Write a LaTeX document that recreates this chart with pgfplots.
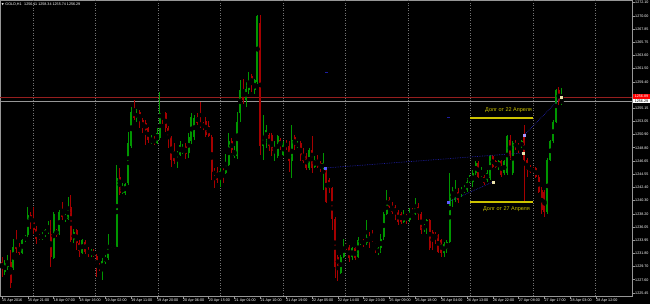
\documentclass[border=0pt]{standalone}
\usepackage{pgfplots}
\pgfplotsset{compat=1.18}
\usepackage{pgfplotstable}
\usepackage{fontspec}
\setmainfont{Liberation Sans}
\newfontfamily\dejavu{DejaVu Sans}
\definecolor{cup}{RGB}{0,150,0}
\definecolor{cdn}{RGB}{165,0,0}
\definecolor{cyel}{RGB}{205,195,0}
\definecolor{cnavy}{RGB}{30,30,160}
\definecolor{cgrid}{RGB}{150,150,150}
\definecolor{cvgrid}{RGB}{115,115,115}
\definecolor{cask}{RGB}{150,30,30}
\definecolor{cm1}{RGB}{90,90,255}
\definecolor{cm2}{RGB}{170,150,255}
\definecolor{cm3}{RGB}{235,225,170}
\pgfplotstableread{
i o h l c
0 1230.5 1231.3 1228.1 1229.4
1 1228.9 1230.7 1228.3 1230.2
2 1229.7 1231.6 1229.1 1230.5
3 1230.5 1232.4 1226.2 1227.0
4 1229.4 1234.2 1229.1 1232.9
5 1233.7 1235.6 1231.8 1232.6
6 1232.9 1233.4 1231.6 1231.8
7 1231.9 1234.2 1231.8 1233.9
8 1234.0 1234.8 1233.7 1234.4
9 1234.8 1239.3 1234.5 1238.0
10 1238.0 1238.5 1235.8 1236.9
11 1236.9 1239.2 1235.0 1235.6
12 1235.8 1236.2 1233.4 1234.2
13 1234.8 1235.0 1233.9 1234.1
14 1234.1 1235.3 1233.9 1234.8
15 1234.8 1235.8 1234.4 1235.5
16 1235.3 1237.1 1235.0 1235.7
17 1235.0 1237.1 1229.7 1231.3
18 1231.0 1238.5 1230.9 1238.2
19 1235.6 1235.8 1234.5 1234.8
20 1235.0 1238.8 1234.8 1238.5
21 1238.8 1240.1 1237.2 1237.7
22 1237.3 1238.2 1236.9 1238.0
23 1237.4 1240.9 1237.2 1239.3
24 1239.2 1241.2 1233.7 1234.0
25 1233.9 1235.7 1233.5 1235.3
26 1235.6 1235.8 1232.4 1233.4
27 1233.5 1234.0 1231.3 1232.2
28 1231.9 1234.1 1231.7 1233.9
29 1233.7 1234.0 1231.7 1232.1
30 1232.4 1232.9 1231.2 1231.7
31 1231.6 1232.5 1231.3 1232.1
32 1232.1 1232.5 1231.2 1231.4
33 1231.4 1231.7 1228.0 1229.4
34 1229.9 1230.2 1229.0 1229.4
35 1229.2 1231.0 1227.5 1230.6
36 1230.5 1231.6 1230.1 1231.2
37 1231.0 1235.0 1230.7 1233.2
38 1233.3 1233.5 1232.6 1232.9
39 1233.1 1233.4 1232.5 1232.7
40 1232.9 1246.0 1232.8 1244.0
41 1244.1 1245.5 1241.2 1241.6
42 1241.6 1243.2 1241.4 1242.3
43 1241.5 1243.2 1241.2 1243.0
44 1243.1 1251.4 1242.8 1249.6
45 1249.0 1255.4 1248.7 1254.6
46 1254.9 1256.5 1253.2 1253.5
47 1253.5 1255.1 1253.0 1254.4
48 1254.6 1254.9 1251.9 1253.1
49 1253.2 1253.5 1251.1 1251.9
50 1252.8 1253.2 1249.2 1251.6
51 1251.9 1252.2 1249.6 1250.0
52 1249.6 1250.8 1249.4 1250.1
53 1250.0 1250.6 1249.2 1249.6
54 1249.5 1251.9 1249.4 1251.1
55 1250.3 1257.8 1250.0 1254.3
56 1254.4 1254.6 1252.6 1254.0
57 1254.3 1254.6 1251.4 1251.9
58 1251.9 1252.3 1248.7 1250.5
59 1250.5 1250.7 1245.7 1246.8
60 1248.2 1249.5 1246.2 1246.7
61 1247.4 1248.3 1245.5 1248.0
62 1247.6 1249.8 1247.4 1249.2
63 1247.9 1249.4 1247.8 1248.7
64 1249.1 1249.6 1246.9 1247.8
65 1247.9 1251.2 1247.1 1250.5
66 1249.8 1254.3 1249.4 1253.7
67 1250.6 1254.0 1250.0 1253.5
68 1253.8 1254.3 1252.4 1252.8
69 1252.8 1256.2 1251.9 1252.3
70 1252.7 1253.0 1251.6 1252.1
71 1253.1 1253.8 1250.5 1250.8
72 1252.2 1253.1 1250.5 1250.7
73 1250.6 1250.8 1243.6 1244.9
74 1244.9 1245.5 1242.3 1244.6
75 1244.9 1245.7 1243.2 1243.6
76 1244.1 1245.5 1242.5 1245.1
77 1245.1 1245.5 1243.1 1244.6
78 1244.7 1247.8 1244.6 1246.3
79 1246.0 1251.1 1245.9 1249.9
80 1249.9 1250.3 1247.9 1248.4
81 1247.5 1249.0 1247.1 1248.2
82 1247.4 1254.6 1246.9 1253.0
83 1254.3 1259.7 1253.0 1258.0
84 1258.1 1259.9 1255.9 1256.5
85 1256.5 1259.4 1255.4 1258.2
86 1258.1 1261.0 1257.5 1259.4
87 1260.3 1260.6 1257.8 1258.9
88 1258.1 1259.8 1257.5 1259.6
89 1259.4 1270.1 1259.1 1270.0
90 1268.8 1270.1 1247.6 1249.0
91 1249.0 1254.0 1246.8 1250.3
92 1250.3 1252.4 1248.7 1251.6
93 1250.8 1251.1 1248.2 1249.0
94 1250.8 1251.1 1247.4 1248.2
95 1248.2 1249.8 1246.6 1249.0
96 1247.4 1250.8 1247.1 1250.6
97 1250.0 1250.3 1248.4 1249.0
98 1247.6 1249.8 1247.4 1249.5
99 1249.5 1250.0 1248.4 1249.0
100 1249.0 1249.8 1244.9 1246.6
101 1246.6 1252.4 1243.9 1250.0
102 1250.6 1250.8 1248.4 1249.0
103 1249.0 1249.8 1248.7 1249.5
104 1249.5 1249.8 1246.6 1247.4
105 1247.6 1248.7 1246.3 1246.6
106 1247.4 1247.9 1245.2 1245.5
107 1245.5 1248.7 1245.2 1248.4
108 1248.4 1250.6 1244.7 1245.5
109 1245.7 1247.4 1245.5 1246.8
110 1246.8 1247.6 1245.5 1245.7
111 1246.3 1246.6 1244.9 1245.5
112 1245.5 1247.9 1242.0 1246.3
113 1245.5 1245.6 1239.9 1240.1
114 1243.6 1243.9 1241.5 1242.3
115 1242.3 1242.5 1235.6 1237.4
116 1237.4 1237.7 1227.8 1229.7
117 1231.3 1231.6 1227.3 1229.7
118 1228.6 1231.6 1228.5 1231.3
119 1231.3 1234.2 1231.0 1233.2
120 1233.2 1233.4 1232.4 1232.9
121 1232.9 1233.2 1230.5 1231.0
122 1231.3 1232.9 1230.7 1232.6
123 1232.6 1232.9 1230.7 1231.0
124 1231.3 1234.5 1231.0 1234.0
125 1233.5 1234.2 1233.2 1234.0
126 1233.7 1234.2 1232.9 1233.4
127 1233.4 1237.2 1233.2 1234.5
128 1234.5 1235.3 1232.6 1234.0
129 1234.3 1235.6 1233.7 1233.9
130 1233.4 1233.5 1231.8 1232.9
131 1231.8 1232.9 1231.6 1232.6
132 1232.6 1235.0 1231.8 1234.2
133 1234.5 1238.5 1234.0 1238.2
134 1238.2 1242.0 1238.0 1240.1
135 1240.4 1240.9 1239.1 1239.3
136 1239.3 1240.1 1238.2 1238.5
137 1239.3 1239.6 1237.2 1238.2
138 1238.5 1238.8 1236.4 1236.9
139 1238.2 1238.5 1236.6 1236.9
140 1236.9 1238.8 1236.7 1238.0
141 1238.0 1238.2 1236.6 1237.2
142 1237.2 1239.1 1236.9 1238.5
143 1238.5 1239.1 1238.0 1238.2
144 1238.2 1240.7 1238.0 1239.1
145 1239.3 1239.9 1237.2 1238.2
146 1238.2 1238.5 1235.0 1235.6
147 1235.6 1236.6 1235.3 1236.4
148 1236.1 1237.4 1235.0 1237.2
149 1237.2 1237.4 1232.4 1232.6
150 1235.3 1235.6 1232.4 1234.0
151 1235.0 1235.3 1233.4 1234.2
152 1234.8 1235.0 1231.8 1232.1
153 1234.0 1234.2 1231.3 1231.8
154 1231.8 1233.7 1231.3 1233.4
155 1232.6 1234.0 1231.8 1233.7
156 1233.7 1244.7 1233.5 1241.5
157 1240.9 1242.5 1239.3 1242.0
158 1240.4 1243.6 1240.1 1242.0
159 1241.7 1242.3 1239.9 1240.4
160 1241.5 1242.5 1240.9 1242.0
161 1241.7 1242.8 1241.5 1242.3
162 1242.0 1243.9 1241.7 1243.3
163 1243.3 1244.4 1243.1 1244.1
164 1243.3 1245.2 1242.5 1244.7
165 1244.7 1246.6 1244.4 1246.3
166 1246.3 1246.6 1243.9 1244.1
167 1244.4 1245.7 1244.1 1244.7
168 1244.1 1244.4 1242.8 1243.1
169 1243.6 1245.2 1243.3 1244.7
170 1243.9 1247.6 1243.6 1247.4
171 1247.4 1247.6 1245.5 1245.7
172 1246.6 1246.8 1245.5 1245.7
173 1245.7 1246.8 1245.2 1246.6
174 1246.6 1246.8 1244.1 1244.4
175 1244.7 1246.8 1244.4 1246.6
176 1244.7 1250.8 1244.4 1250.6
177 1250.0 1250.8 1246.8 1247.4
178 1244.7 1249.8 1244.4 1249.5
179 1249.5 1250.0 1248.4 1249.0
180 1249.2 1249.5 1247.9 1248.7
181 1249.0 1250.0 1248.7 1249.8
182 1250.8 1252.4 1240.1 1246.8
183 1246.8 1247.1 1244.1 1245.2
184 1245.7 1246.0 1244.7 1244.9
185 1245.5 1245.7 1244.7 1244.9
186 1245.5 1245.7 1243.9 1244.1
187 1244.1 1244.4 1241.5 1241.7
188 1242.0 1242.5 1238.2 1238.8
189 1241.7 1242.0 1237.7 1238.5
190 1238.5 1247.1 1238.2 1246.8
191 1246.8 1250.0 1246.6 1249.8
192 1249.8 1253.2 1249.5 1253.0
193 1253.0 1258.3 1252.7 1258.0
194 1258.0 1258.6 1255.7 1256.1
195 1256.11 1258.34 1255.74 1256.29
}\candles
\begin{document}
\begin{tikzpicture}
\fill[black] (0bp,0bp) rectangle (650bp,304bp);
\useasboundingbox (0bp,0bp) rectangle (650bp,304bp);
\begin{axis}[
  at={(0bp,8bp)}, anchor=south west,
  scale only axis, width=632bp, height=296bp,
  xmin=-0.697, xmax=219.5, ymin=1224.96, ymax=1272.53,
  axis line style={draw=cgrid, line width=0.8bp},
  tick align=outside, major tick length=2.5bp,
  tick style={draw=cgrid, line width=0.6bp},
  xtick pos=bottom, ytick pos=right, yticklabel pos=right,
  xtick={0,9,...,207},
  xticklabels={15 Apr 2016,15 Apr 21:00,18 Apr 07:00,18 Apr 16:00,19 Apr 02:00,19 Apr 11:00,19 Apr 20:00,20 Apr 06:00,20 Apr 15:00,21 Apr 01:00,21 Apr 10:00,21 Apr 19:00,22 Apr 05:00,22 Apr 14:00,22 Apr 23:00,25 Apr 09:00,25 Apr 18:00,26 Apr 04:00,26 Apr 13:00,26 Apr 22:00,27 Apr 08:00,27 Apr 17:00,28 Apr 03:00,28 Apr 12:00},
  xticklabel style={font=\fontsize{3.7}{4.4}\selectfont, text=white, anchor=north west, inner sep=0pt, yshift=-0.5bp, xshift=0bp},
  ytick={1225.45,1227.57,1229.69,1231.81,1233.93,1236.05,1238.17,1240.29,1242.41,1244.53,1246.66,1248.78,1250.90,1253.02,1255.14,1257.26,1259.38,1261.50,1263.62,1265.74,1267.86,1269.98,1272.10},
  yticklabels={1225.45,1227.60,1229.70,1231.80,1233.95,1236.05,1238.20,1240.30,1242.40,1244.55,1246.65,1248.80,1250.90,1253.05,1255.15,{},1259.40,1261.50,1263.60,1265.75,1267.85,1270.00,1272.10},
  yticklabel style={font=\fontsize{3.7}{4.4}\selectfont, text=white, anchor=west, inner sep=0pt, xshift=0.5bp},
  extra x ticks={10.91,32.68,54.4,76.2,97.98,119.75,141.5,163.3,185.1,206.8},
  extra x tick labels={},
  extra x tick style={grid=major, major grid style={draw=cvgrid, dash pattern=on 1bp off 1.5bp, line width=0.6bp}, tick style={draw=none}},
]
% price lines
\addplot[cask, line width=0.8bp] coordinates {(-0.697,1256.89) (219.5,1256.89)};
\addplot[cgrid, line width=0.8bp] coordinates {(-0.697,1256.29) (219.5,1256.29)};
% wicks
\addplot[only marks, mark=none, restrict expr to domain={\thisrow{c}-\thisrow{o}}{0:1000},
  error bars/.cd, y dir=both, y explicit, error mark=none,
  error bar style={draw=cup, solid, line width=0.8bp}]
  table[x=i, y expr={(\thisrow{h}+\thisrow{l})/2}, y error expr={(\thisrow{h}-\thisrow{l})/2}] {\candles};
\addplot[only marks, mark=none, restrict expr to domain={\thisrow{c}-\thisrow{o}}{-1000:-0.00001},
  error bars/.cd, y dir=both, y explicit, error mark=none,
  error bar style={draw=cdn, solid, line width=0.8bp}]
  table[x=i, y expr={(\thisrow{h}+\thisrow{l})/2}, y error expr={(\thisrow{h}-\thisrow{l})/2}] {\candles};
% bodies
\addplot[only marks, mark=none, restrict expr to domain={\thisrow{c}-\thisrow{o}}{0:1000},
  error bars/.cd, y dir=both, y explicit, error mark=none,
  error bar style={draw=cup, solid, line width=2bp, line cap=butt}]
  table[x=i, y expr={(\thisrow{o}+\thisrow{c})/2}, y error expr={abs(\thisrow{c}-\thisrow{o})/2}] {\candles};
\addplot[only marks, mark=none, restrict expr to domain={\thisrow{c}-\thisrow{o}}{-1000:-0.00001},
  error bars/.cd, y dir=both, y explicit, error mark=none,
  error bar style={draw=cdn, solid, line width=2bp, line cap=butt}]
  table[x=i, y expr={(\thisrow{o}+\thisrow{c})/2}, y error expr={abs(\thisrow{c}-\thisrow{o})/2}] {\candles};
% trade lines
\addplot[cnavy, densely dotted, line width=0.7bp] coordinates {(112.5,1245.53) (181.5,1247.94)};
\addplot[cnavy, densely dotted, line width=0.7bp] coordinates {(155.4,1240.07) (171.1,1243.3)};
\addplot[cnavy, densely dotted, line width=0.7bp] coordinates {(181.9,1250.8) (194.8,1256.9)};
\addplot[only marks, mark=-, mark size=1.3bp, mark options={draw=cnavy, line width=0.8bp}] coordinates {(113.1,1260.96) (155.6,1253.7)};
% yellow levels
\addplot[cyel, line width=1.8bp] coordinates {(163.2,1253.57) (185.0,1253.57)};
\addplot[cyel, line width=1.8bp] coordinates {(163.2,1240.07) (185.0,1240.07)};
% markers
\addplot[only marks, mark=square*, mark size=1.1bp, mark options={draw=cm1, fill=cm1}] coordinates {(112.5,1245.53) (155.4,1240.07)};
\addplot[only marks, mark=square*, mark size=1.1bp, mark options={draw=cm2, fill=cm2}] coordinates {(181.9,1250.8)};
\addplot[only marks, mark=square*, mark size=1.1bp, mark options={draw=cm3, fill=cm3}] coordinates {(171.1,1243.3) (181.5,1247.94) (194.8,1256.9)};
\node[anchor=east, text=cyel, inner sep=0pt, font=\fontsize{5.5}{6.5}\selectfont] at (axis cs:184.7,1254.85) {Долг от 22 Апреля};
\node[anchor=east, text=cyel, inner sep=0pt, font=\fontsize{5.5}{6.5}\selectfont] at (axis cs:184.0,1238.94) {Долг от 27 Апреля};
\end{axis}
\node[anchor=west, fill=red, text=white, inner sep=0.3bp, minimum height=4.6bp, minimum width=16.5bp, font=\fontsize{3.7}{4.4}\selectfont] at (633bp,207.4bp) {1256.89};
\node[anchor=west, fill=white, text=black, inner sep=0.3bp, minimum height=4.4bp, minimum width=16.5bp, font=\fontsize{3.7}{4.4}\selectfont] at (633bp,202.8bp) {1256.29};
\node[anchor=west, text=white, inner sep=0pt, font=\fontsize{3.7}{4.4}\selectfont] at (1.5bp,299.7bp) {{\dejavu\fontsize{3}{4}\selectfont ▼}\hspace{1.5bp}GOLD,H1\hspace{1.5bp} 1256.11 1258.34 1255.74 1256.29};
\end{tikzpicture}
\end{document}
